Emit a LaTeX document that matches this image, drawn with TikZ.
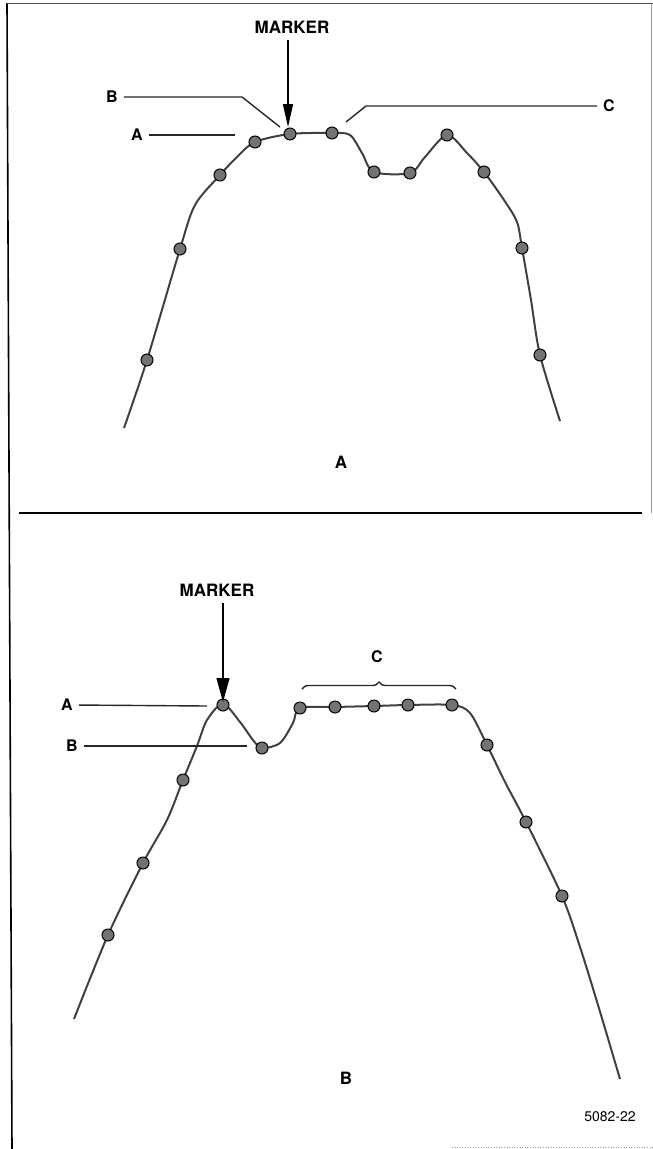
\documentclass[tikz,border=0pt]{standalone}
\usepackage{fontspec}
\setmainfont{TeX Gyre Heros}
\usetikzlibrary{arrows.meta,decorations.pathreplacing}

\begin{document}
\begin{tikzpicture}[x=1pt,y=-1pt,
  lbl/.style={font=\bfseries\fontsize{16}{16}\selectfont, inner sep=1pt},
  captext/.style={font=\bfseries\fontsize{17}{17}\selectfont, inner sep=1pt},
  lead/.style={line width=1.4pt, black!85, shorten <=5pt},
  trace/.style={line width=2pt, black!75, smooth, tension=0.5},
  dot/.style={fill=black!55, draw=black, line width=1pt},
  mkarrow/.style={line width=1.3pt, shorten <=6pt}]

\useasboundingbox (0,0) rectangle (653,1149);

% frame
\draw[line width=1.6pt] (7,3) -- (12,1149);
\draw[line width=0.8pt, black!70] (7,3) -- (653,3);
\draw[line width=0.6pt, black!40] (651,3) -- (651,513);
\draw[line width=2pt] (19,513) -- (642,513);
\draw[line width=0.6pt, black!40, dotted] (452,1147) -- (653,1147);

% view A
\draw[trace] plot coordinates {(124,428) (147,360) (180,249) (195,205) (220,175)
  (237,157) (255,142) (290,134) (332,133) (350,135) (362,153) (374,172) (410,173)
  (425,157) (447,135) (467,153) (484,172) (504,200) (517,222) (522,248) (531,300)
  (540,355) (560,421)};
\foreach \p in {(147,360),(180,249),(220,175),(255,142),(290,134),(332,133),
  (374,172),(410,173),(447,135),(484,172),(522,248),(540,355)}
  \draw[dot] \p circle[radius=6pt];

\node[captext] (mkA) at (292,27) {MARKER};
\coordinate (tipA) at (288,127);
\draw[mkarrow, -{Triangle[length=23pt,width=10pt]}] (mkA.south -| tipA) -- (tipA);

\node[lbl] (bA) at (112,97) {B};
\draw[lead] (bA.east) -- (242,97) -- (280,127);
\node[lbl] (aA) at (137,135) {A};
\draw[lead] (aA.east) -- (235,135);
\node[lbl] (cA) at (609,106) {C};
\draw[lead] (cA.west) -- (366,106) -- (346,122);

\node[captext] (capA) at (341,462) {A};

% view B
\draw[trace] plot coordinates {(74,1019) (108,935) (143,863) (167,820) (183,780)
  (197,746) (207,720) (223,704) (240,722) (253,740) (262,748) (280,743) (293,723)
  (300,708) (335,707) (374,706) (408,705) (452,705) (470,713) (487,745) (505,782)
  (526,822) (562,896) (580,947) (598,1005) (620,1079)};
\foreach \p in {(108,935),(143,863),(183,780),(223,705),(262,748),(300,708),
  (335,707),(374,706),(408,705),(452,705),(487,745),(526,822),(562,896)}
  \draw[dot] \p circle[radius=6pt];

\node[captext] (mkB) at (217,590) {MARKER};
\coordinate (tipB) at (223,702);
\draw[mkarrow, -{Triangle[length=24pt,width=13pt]}] (mkB.south -| tipB) -- (tipB);

\node[lbl] (aB) at (67,705) {A};
\draw[lead] (aB.east) -- (207,706);
\node[lbl] (bB) at (72,746) {B};
\draw[lead] (bB.east) -- (247,746);
\node[lbl] (cB) at (377,657) {C};
\draw[line width=1.4pt, black!85, decorate, decoration={brace, amplitude=7pt}]
  (302,689) -- (456,689);

\node[captext] (capB) at (346,1078) {B};
\node[font=\fontsize{14}{14}\selectfont] (fig) at (610,1117) {5082-22};

\end{tikzpicture}
\end{document}
